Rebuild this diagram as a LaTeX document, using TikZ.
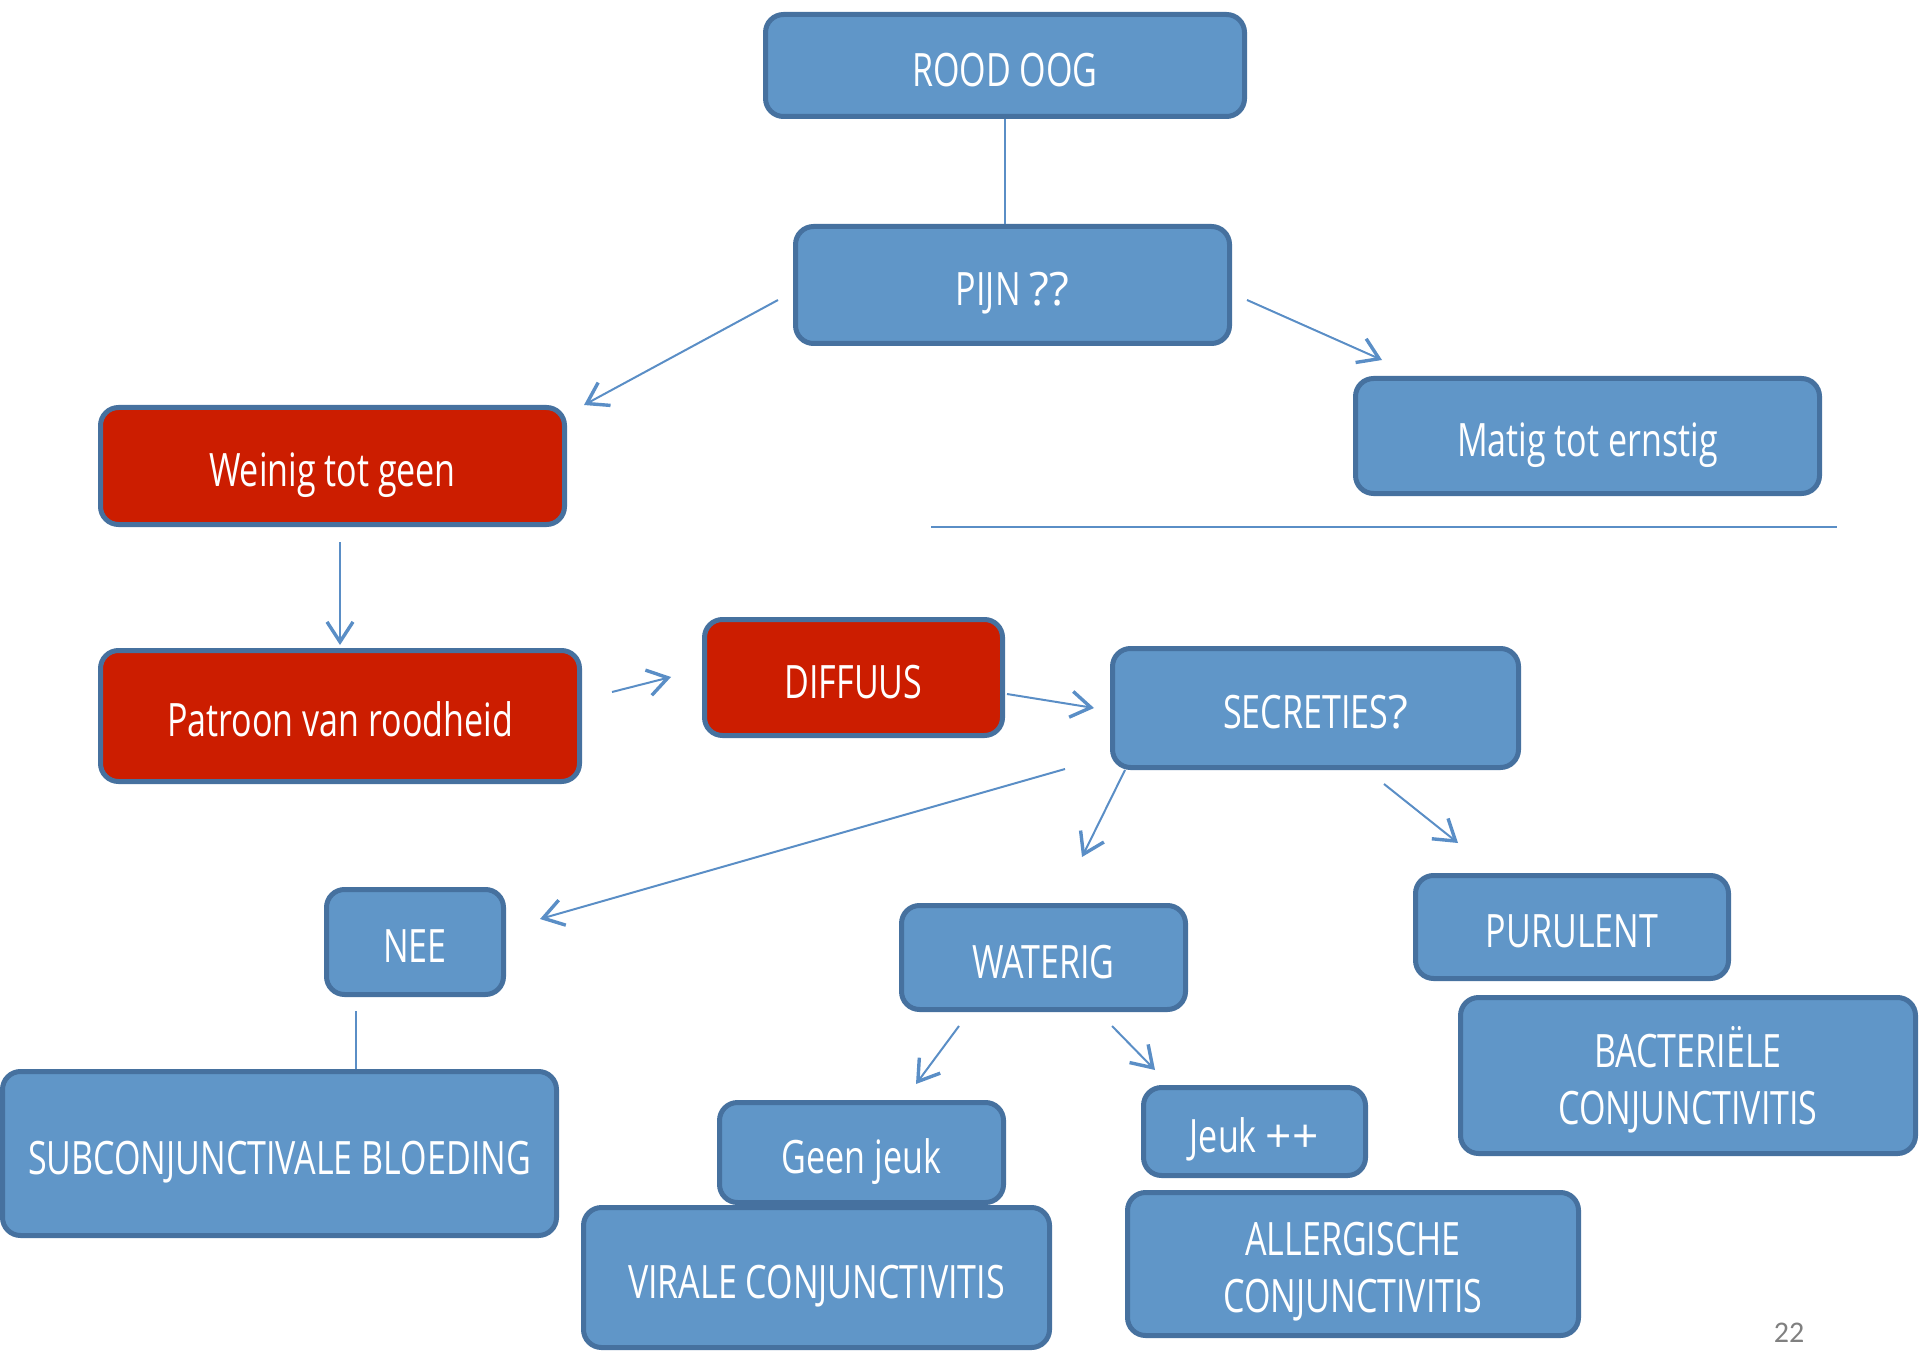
\documentclass[tikz,border=0pt]{standalone}
\usepackage{fontspec}
\setmainfont[FakeStretch=0.74]{Open Sans}
\newfontfamily\widesans{Open Sans}
\newfontfamily\pagenumfont{Carlito}
\usetikzlibrary{arrows.meta}

\definecolor{boxfill}{RGB}{96,150,200}
\definecolor{boxedge}{RGB}{70,113,159}
\definecolor{alertfill}{RGB}{204,29,0}
\definecolor{linkblue}{RGB}{90,142,198}
\definecolor{pagegray}{RGB}{128,128,128}

% two centred lines, lowered so that the capitals sit a little below the middle
\newcommand{\twolines}[2]{\raisebox{-4.3pt}[\height][\depth]{\begin{tabular}{@{}c@{}}#1\\#2\end{tabular}}}

\tikzset{
  box/.style={draw=boxedge, line width=2.5pt, fill=boxfill, rounded corners=9pt,
    text=white, inner sep=0pt, text height=20.7pt, text depth=0pt,
    font=\fontsize{23}{28.5}\selectfont},
  twobox/.style={box, text height=, text depth=},
  alertbox/.style={box, fill=alertfill},
  link/.style={draw=linkblue, line width=1pt},
  arrowlink/.style={link, -{Straight Barb[length=10pt,width=13pt,line width=1.7pt]}},
}

\begin{document}
\begin{tikzpicture}[x=0.5pt, y=-0.5pt]
\useasboundingbox (0,0) rectangle (1920,1352);

% decision boxes
\node[box, minimum width=239.5pt, minimum height=51pt]   (rood)      at (1005,65.5)   {ROOD OOG};
\node[box, minimum width=217pt,   minimum height=58.5pt] (pijn)      at (1012.5,285)  {PIJN {\widesans ??}};
\node[alertbox, minimum width=232pt, minimum height=58.5pt] (weinig) at (332.5,466)   {Weinig tot geen};
\node[box, minimum width=232pt,   minimum height=57.5pt] (matig)     at (1587.5,436)  {Matig tot ernstig};
\node[alertbox, minimum width=239.5pt, minimum height=65.5pt] (patroon) at (340,716)  {Patroon van roodheid};
\node[alertbox, minimum width=149pt, minimum height=58pt] (diffuus)  at (853.5,677.5) {DIFFUUS};
\node[box, minimum width=203pt,   minimum height=59.5pt] (secreties) at (1315.5,708)  {SECRETIES{\widesans ?}};
\node[box, minimum width=88.5pt,  minimum height=52.5pt] (nee)       at (415,942)     {NEE};
\node[box, minimum width=142pt,   minimum height=52pt]   (waterig)   at (1043.5,957.5) {WATERIG};
\node[box, minimum width=156.5pt, minimum height=51.5pt] (purulent)  at (1572,927)    {PURULENT};
\node[twobox, minimum width=227.5pt, minimum height=78pt] (bacterieel) at (1688,1075.5) {\twolines{BACTERIËLE}{CONJUNCTIVITIS}};
\node[box, minimum width=277pt,   minimum height=82pt]   (subconj)   at (279.5,1153.5) {SUBCONJUNCTIVALE BLOEDING};
\node[box, minimum width=142pt,   minimum height=50pt]   (geenjeuk)  at (861.5,1152.5) {Geen jeuk};
\node[box, minimum width=233pt,   minimum height=70pt]   (viraal)    at (816.5,1277.5) {VIRALE CONJUNCTIVITIS};
\node[box, minimum width=111pt,   minimum height=44pt]   (jeuk)      at (1254.5,1131.5) {Jeuk {\widesans +\kern0.5pt+}};
\node[twobox, minimum width=225.5pt, minimum height=71.5pt] (allergisch) at (1353,1264) {\twolines{ALLERGISCHE}{CONJUNCTIVITIS}};

% free ends of the connectors
\coordinate (pijnL)      at (778,300);
\coordinate (weinigT)    at (584,405);
\coordinate (pijnR)      at (1247,300);
\coordinate (matigT)     at (1382,360);
\coordinate (ruleL)      at (931,527);
\coordinate (ruleR)      at (1837,527);
\coordinate (weinigB)    at (340,542);
\coordinate (patroonT)   at (340,645);
\coordinate (patroonR)   at (612,692);
\coordinate (diffuusL)   at (671,677);
\coordinate (diffuusR)   at (1007,694);
\coordinate (secretiesL) at (1094,708);
\coordinate (secretiesSW) at (1065,769);
\coordinate (neeNE)      at (540,919);
\coordinate (secretiesS) at (1125,770);
\coordinate (waterigN)   at (1082,857);
\coordinate (secretiesSE) at (1384,784);
\coordinate (purulentN)  at (1458,843);
\coordinate (neeS)       at (356,1011);
\coordinate (waterigSW)  at (959,1026);
\coordinate (geenjeukN)  at (916,1084);
\coordinate (waterigSE)  at (1112,1026);
\coordinate (jeukN)      at (1155,1070);

% connectors
\draw[link] (rood.south) -- (rood.south |- pijn.north);
\draw[arrowlink] (pijnL) -- (weinigT);
\draw[arrowlink] (pijnR) -- (matigT);
\draw[link] (ruleL) -- (ruleR);
\draw[arrowlink] (weinigB) -- (patroonT);
\draw[arrowlink] (patroonR) -- (diffuusL);
\draw[arrowlink] (diffuusR) -- (secretiesL);
\draw[arrowlink] (secretiesSW) -- (neeNE);
\draw[arrowlink] (secretiesS) -- (waterigN);
\draw[arrowlink] (secretiesSE) -- (purulentN);
\draw[link] (neeS) -- (neeS |- subconj.north);
\draw[arrowlink] (waterigSW) -- (geenjeukN);
\draw[arrowlink] (waterigSE) -- (jeukN);

% page number
\node[text=pagegray, font=\pagenumfont\fontsize{15}{18}\selectfont, inner sep=0pt] (pagenum) at (1789,1333) {22};
\end{tikzpicture}
\end{document}
